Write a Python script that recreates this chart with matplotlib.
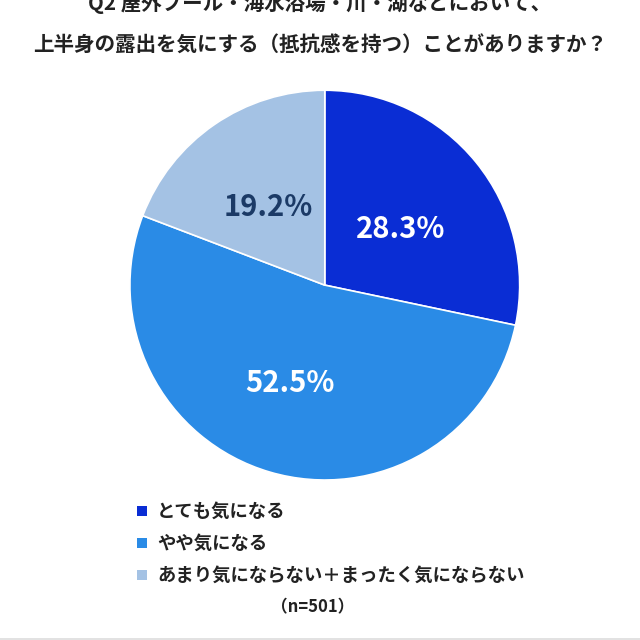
import matplotlib.pyplot as plt
from matplotlib.patches import Rectangle

plt.rcParams['font.family'] = ['Noto Sans CJK JP', 'DejaVu Sans']

categories = ['とても気になる', 'やや気になる', 'あまり気にならない＋まったく気にならない']
values = [28.3, 52.5, 19.2]
colors = ['#0a2dd4', '#2a8be6', '#a4c2e4']
label_colors = ['white', 'white', '#1b3a66']
title_lines = ['Q2 屋外プール・海水浴場・川・湖などにおいて、',
               '上半身の露出を気にする（抵抗感を持つ）ことがありますか？']
n_text = '（n=501）'

fig = plt.figure(figsize=(6.4, 6.4), dpi=100)
fig.patch.set_facecolor('white')

ax = fig.add_axes([0.203, 0.250, 0.609, 0.609])
wedges, _ = ax.pie(values, colors=colors, startangle=90, counterclock=False,
                   wedgeprops=dict(edgecolor='white', linewidth=1.2))
ax.set_xlim(-1, 1)
ax.set_ylim(-1, 1)
ax.set_aspect('equal')

label_pos = [(0.39, 0.29), (-0.18, -0.50), (-0.29, 0.40)]
for v, (x, y), c in zip(values, label_pos, label_colors):
    ax.text(x, y, f'{v}%', ha='center', va='center', fontsize=21,
            fontweight='semibold', color=c)

# title (first line partly cut off at top, as in the source image)
fig.text(0.5, 1 - 3 / 640, title_lines[0], ha='center', va='center',
         fontsize=14.8, fontweight='bold', color='#222222')
fig.text(0.5, 1 - 45 / 640, title_lines[1], ha='center', va='center',
         fontsize=14.8, fontweight='bold', color='#222222')

# legend
for i, (cat, col) in enumerate(zip(categories, colors)):
    yc = 1 - (511 + 32 * i) / 640
    fig.patches.append(Rectangle((137 / 640, yc - 5 / 640), 10 / 640, 10 / 640,
                                 transform=fig.transFigure, facecolor=col,
                                 edgecolor='none'))
    fig.text(157 / 640, yc, cat, ha='left', va='center', fontsize=13.2,
             fontweight='bold', color='#222222')

fig.text(313 / 640, 1 - 607 / 640, n_text, ha='center', va='center',
         fontsize=12, fontweight='bold', color='#222222')

# light frame at bottom
fig.patches.append(Rectangle((0, 0), 1, 2 / 640, transform=fig.transFigure,
                             facecolor='#e2e2e2', edgecolor='none'))

plt.savefig('out.png', dpi=100, facecolor='white')
